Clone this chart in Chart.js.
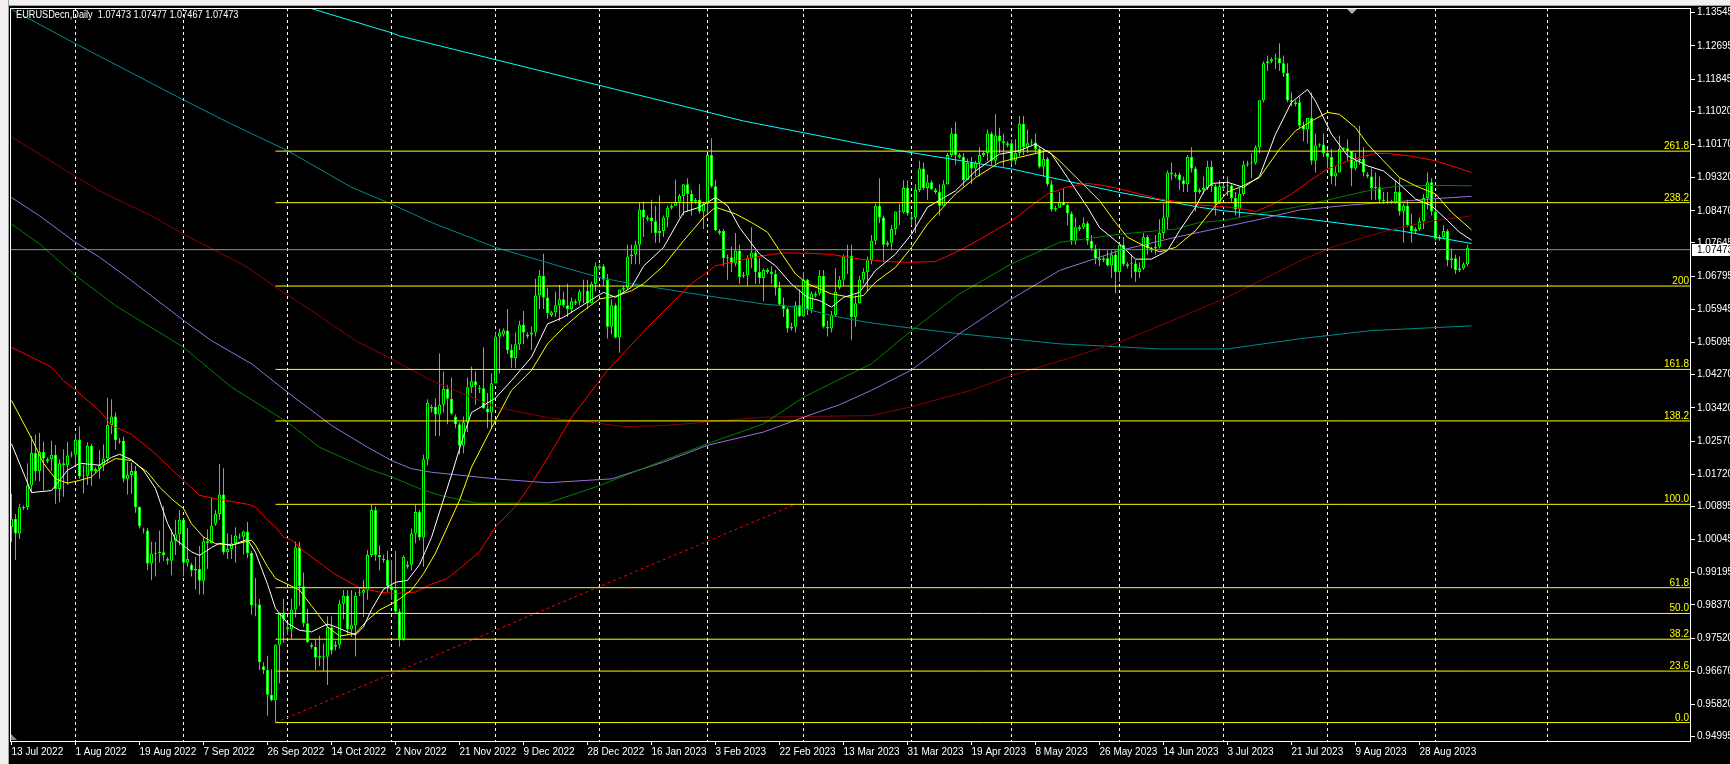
<!DOCTYPE html>
<html><head><meta charset="utf-8">
<style>
html,body{margin:0;padding:0;background:#000;overflow:hidden;}
#wrap{position:relative;width:1730px;height:764px;background:#000;}
#c{position:absolute;left:0;top:0;}
.strip{position:absolute;background:#f0f0f0;}
</style>
<script src="https://cdn.jsdelivr.net/npm/chart.js@4.4.0/dist/chart.umd.min.js"></script>
</head><body>
<div id="wrap">
<canvas id="c" width="1730" height="764"></canvas>
<div class="strip" style="left:0;top:0;width:1730px;height:6px;border-bottom:1px solid #a0a0a0;box-sizing:border-box"></div>
<div class="strip" style="left:0;top:0;width:9px;height:764px;border-right:1px solid #a0a0a0;box-sizing:border-box"></div>
</div>
<script>
// ---- Daily bars [open, high, low, close], Sun..Fri sessions, by month ----
const D_2022_07 = [[1.0037,1.0122,0.9998,1.0058],[1.0058,1.0070,0.9952,1.0020],[1.0020,1.0096,1.0006,1.0087],[1.0085,1.0092,1.0080,1.0088],[1.0088,1.0200,1.0080,1.0143],[1.0143,1.0269,1.0125,1.0226],[1.0226,1.0273,1.0155,1.0180],[1.0180,1.0278,1.0153,1.0229],[1.0229,1.0256,1.0130,1.0212],[1.0205,1.0215,1.0200,1.0210],[1.0210,1.0258,1.0180,1.0222],[1.0222,1.0247,1.0096,1.0134],[1.0134,1.0210,1.0100,1.0200],[1.0200,1.0235,1.0114,1.0195],[1.0195,1.0255,1.0145,1.0220],[1.0220,1.0230,1.0215,1.0222]];
const D_2022_08 = [[1.0222,1.0274,1.0195,1.0260],[1.0260,1.0294,1.0160,1.0166],[1.0166,1.0195,1.0123,1.0168],[1.0168,1.0254,1.0144,1.0245],[1.0245,1.0250,1.0142,1.0180],[1.0180,1.0190,1.0175,1.0185],[1.0185,1.0234,1.0160,1.0195],[1.0195,1.0248,1.0180,1.0212],[1.0212,1.0368,1.0202,1.0298],[1.0298,1.0364,1.0275,1.0320],[1.0320,1.0330,1.0235,1.0259],[1.0255,1.0265,1.0250,1.0258],[1.0258,1.0268,1.0151,1.0160],[1.0160,1.0203,1.0120,1.0170],[1.0170,1.0202,1.0122,1.0180],[1.0180,1.0193,1.0073,1.0088],[1.0088,1.0090,1.0033,1.0039],[1.0030,1.0035,1.0020,1.0028],[1.0028,1.0034,0.9926,0.9943],[0.9943,0.9999,0.9900,0.9968],[0.9968,0.9998,0.9910,0.9970],[0.9970,1.0028,0.9946,0.9972],[0.9972,1.0090,0.9950,0.9965],[0.9955,0.9960,0.9940,0.9950],[0.9950,1.0030,0.9913,1.0000],[1.0000,1.0055,0.9965,1.0018],[1.0018,1.0080,0.9990,1.0055]];
const D_2022_09 = [[1.0055,1.0056,0.9910,0.9945],[0.9945,1.0034,0.9935,0.9955],[0.9940,0.9945,0.9910,0.9925],[0.9925,0.9960,0.9877,0.9929],[0.9929,0.9988,0.9864,0.9899],[0.9899,1.0011,0.9864,1.0000],[1.0000,1.0030,0.9930,0.9995],[0.9995,1.0112,0.9995,1.0040],[1.0045,1.0080,1.0040,1.0070],[1.0070,1.0198,1.0055,1.0120],[1.0120,1.0187,0.9966,0.9972],[0.9972,1.0020,0.9955,0.9980],[0.9980,1.0017,0.9955,0.9995],[0.9995,1.0036,0.9945,1.0015],[1.0010,1.0020,1.0005,1.0012],[1.0012,1.0027,0.9966,1.0025],[1.0025,1.0050,0.9957,0.9970],[0.9970,0.9976,0.9812,0.9836],[0.9836,0.9906,0.9808,0.9838],[0.9838,0.9852,0.9670,0.9690],[0.9680,0.9690,0.9660,0.9670],[0.9670,0.9707,0.9553,0.9607],[0.9607,0.9672,0.9590,0.9593],[0.9593,0.9736,0.9536,0.9735],[0.9735,0.9816,0.9636,0.9814],[0.9814,0.9853,0.9740,0.9800]];
const D_2022_10 = [[0.9780,0.9790,0.9760,0.9775],[0.9775,0.9852,0.9750,0.9825],[0.9825,0.9999,0.9805,0.9985],[0.9985,0.9999,0.9835,0.9885],[0.9885,0.9920,0.9780,0.9790],[0.9790,0.9827,0.9740,0.9742],[0.9735,0.9740,0.9725,0.9730],[0.9730,0.9748,0.9670,0.9702],[0.9702,0.9758,0.9680,0.9707],[0.9707,0.9738,0.9668,0.9704],[0.9704,0.9808,0.9632,0.9780],[0.9780,0.9808,0.9710,0.9720],[0.9730,0.9745,0.9720,0.9735],[0.9735,0.9850,0.9725,0.9840],[0.9840,0.9875,0.9800,0.9860],[0.9860,0.9875,0.9760,0.9775],[0.9775,0.9875,0.9755,0.9785],[0.9785,0.9870,0.9705,0.9860],[0.9870,0.9880,0.9860,0.9868],[0.9868,0.9900,0.9806,0.9875],[0.9875,0.9977,0.9850,0.9965],[0.9965,1.0094,0.9960,1.0080],[1.0080,1.0089,0.9950,0.9965],[0.9965,0.9990,0.9925,0.9960],[0.9955,0.9965,0.9945,0.9952],[0.9952,0.9976,0.9870,0.9885]];
const D_2022_11 = [[0.9885,0.9953,0.9850,0.9875],[0.9875,0.9975,0.9815,0.9820],[0.9820,0.9827,0.9730,0.9750],[0.9750,0.9964,0.9745,0.9960],[0.9935,0.9950,0.9930,0.9940],[0.9940,1.0033,0.9925,1.0020],[1.0020,1.0093,0.9995,1.0075],[1.0075,1.0080,1.0002,1.0010],[1.0010,1.0222,0.9935,1.0210],[1.0210,1.0364,1.0195,1.0355],[1.0340,1.0350,1.0330,1.0345],[1.0345,1.0366,1.0270,1.0325],[1.0325,1.0481,1.0270,1.0350],[1.0350,1.0435,1.0330,1.0390],[1.0390,1.0400,1.0300,1.0365],[1.0365,1.0420,1.0325,1.0327],[1.0320,1.0325,1.0290,1.0300],[1.0300,1.0305,1.0223,1.0245],[1.0245,1.0320,1.0225,1.0305],[1.0305,1.0420,1.0280,1.0395],[1.0395,1.0448,1.0380,1.0410],[1.0410,1.0436,1.0350,1.0400],[1.0390,1.0400,1.0380,1.0392],[1.0392,1.0497,1.0340,1.0340],[1.0340,1.0380,1.0290,1.0330],[1.0330,1.0430,1.0290,1.0405]];
const D_2022_12 = [[1.0405,1.0535,1.0405,1.0525],[1.0525,1.0545,1.0430,1.0535],[1.0530,1.0545,1.0525,1.0540],[1.0540,1.0595,1.0480,1.0490],[1.0490,1.0505,1.0445,1.0470],[1.0470,1.0535,1.0445,1.0505],[1.0505,1.0565,1.0490,1.0555],[1.0555,1.0590,1.0505,1.0535],[1.0525,1.0535,1.0520,1.0530],[1.0530,1.0550,1.0490,1.0535],[1.0535,1.0673,1.0525,1.0630],[1.0630,1.0695,1.0595,1.0680],[1.0680,1.0737,1.0595,1.0625],[1.0625,1.0650,1.0570,1.0585],[1.0580,1.0590,1.0575,1.0587],[1.0587,1.0640,1.0575,1.0605],[1.0605,1.0657,1.0565,1.0620],[1.0620,1.0640,1.0600,1.0605],[1.0605,1.0660,1.0575,1.0595],[1.0595,1.0625,1.0585,1.0615],[1.0610,1.0620,1.0605,1.0615],[1.0615,1.0645,1.0605,1.0640],[1.0640,1.0670,1.0610,1.0642],[1.0642,1.0670,1.0595,1.0610],[1.0610,1.0665,1.0610,1.0660],[1.0660,1.0715,1.0640,1.0705]];
const D_2023_01 = [[1.0700,1.0710,1.0695,1.0705],[1.0705,1.0710,1.0655,1.0670],[1.0670,1.0685,1.0520,1.0550],[1.0550,1.0620,1.0530,1.0605],[1.0605,1.0610,1.0520,1.0522],[1.0522,1.0645,1.0483,1.0645],[1.0645,1.0655,1.0640,1.0650],[1.0650,1.0760,1.0645,1.0730],[1.0730,1.0760,1.0710,1.0735],[1.0735,1.0770,1.0710,1.0760],[1.0760,1.0868,1.0710,1.0850],[1.0850,1.0870,1.0780,1.0830],[1.0825,1.0835,1.0820,1.0830],[1.0830,1.0875,1.0790,1.0820],[1.0820,1.0860,1.0765,1.0790],[1.0790,1.0887,1.0765,1.0795],[1.0795,1.0835,1.0780,1.0830],[1.0830,1.0860,1.0805,1.0855],[1.0855,1.0865,1.0850,1.0860],[1.0860,1.0927,1.0860,1.0870],[1.0870,1.0890,1.0830,1.0885],[1.0885,1.0915,1.0835,1.0915],[1.0915,1.0930,1.0845,1.0890],[1.0890,1.0900,1.0835,1.0870],[1.0870,1.0880,1.0865,1.0875],[1.0875,1.0915,1.0840,1.0845],[1.0845,1.0870,1.0800,1.0865]];
const D_2023_02 = [[1.0865,1.0990,1.0835,1.0990],[1.0990,1.1033,1.0905,1.0910],[1.0910,1.0925,1.0795,1.0797],[1.0790,1.0800,1.0785,1.0795],[1.0795,1.0800,1.0705,1.0725],[1.0725,1.0735,1.0670,1.0728],[1.0728,1.0755,1.0690,1.0712],[1.0712,1.0790,1.0705,1.0745],[1.0745,1.0760,1.0660,1.0677],[1.0680,1.0690,1.0675,1.0682],[1.0682,1.0733,1.0655,1.0725],[1.0725,1.0805,1.0700,1.0740],[1.0740,1.0745,1.0660,1.0690],[1.0690,1.0725,1.0660,1.0675],[1.0675,1.0700,1.0615,1.0695],[1.0695,1.0700,1.0685,1.0690],[1.0690,1.0705,1.0660,1.0685],[1.0685,1.0695,1.0630,1.0650],[1.0650,1.0665,1.0605,1.0607],[1.0607,1.0625,1.0575,1.0595],[1.0595,1.0600,1.0535,1.0545],[1.0545,1.0560,1.0540,1.0550],[1.0550,1.0615,1.0535,1.0605],[1.0605,1.0645,1.0575,1.0577]];
const D_2023_03 = [[1.0577,1.0690,1.0575,1.0670],[1.0670,1.0672,1.0580,1.0595],[1.0595,1.0640,1.0585,1.0635],[1.0630,1.0640,1.0625,1.0635],[1.0635,1.0695,1.0630,1.0680],[1.0680,1.0695,1.0545,1.0550],[1.0550,1.0565,1.0525,1.0545],[1.0545,1.0590,1.0535,1.0580],[1.0580,1.0700,1.0575,1.0640],[1.0650,1.0680,1.0645,1.0670],[1.0670,1.0735,1.0655,1.0730],[1.0730,1.0760,1.0685,1.0732],[1.0732,1.0760,1.0515,1.0575],[1.0575,1.0630,1.0550,1.0610],[1.0610,1.0680,1.0610,1.0670],[1.0670,1.0700,1.0660,1.0690],[1.0690,1.0730,1.0640,1.0720],[1.0720,1.0785,1.0710,1.0770],[1.0770,1.0865,1.0760,1.0860],[1.0860,1.0930,1.0815,1.0830],[1.0830,1.0835,1.0715,1.0760],[1.0760,1.0770,1.0755,1.0765],[1.0765,1.0810,1.0745,1.0800],[1.0800,1.0845,1.0785,1.0845],[1.0845,1.0865,1.0810,1.0843],[1.0843,1.0925,1.0840,1.0905],[1.0905,1.0925,1.0835,1.0840]];
const D_2023_04 = [[1.0825,1.0840,1.0810,1.0830],[1.0830,1.0915,1.0790,1.0900],[1.0900,1.0975,1.0895,1.0955],[1.0955,1.0970,1.0900,1.0905],[1.0905,1.0940,1.0875,1.0920],[1.0920,1.0925,1.0900,1.0902],[1.0900,1.0905,1.0890,1.0895],[1.0895,1.0915,1.0835,1.0860],[1.0860,1.0925,1.0860,1.0915],[1.0915,1.0995,1.0915,1.0990],[1.0990,1.1060,1.0985,1.1045],[1.1045,1.1075,1.0965,1.0990],[1.0990,1.0995,1.0980,1.0985],[1.0985,1.0995,1.0910,1.0925],[1.0925,1.0980,1.0925,1.0970],[1.0970,1.0985,1.0915,1.0955],[1.0955,1.0975,1.0935,1.0970],[1.0970,1.1010,1.0935,1.0990],[1.0990,1.1000,1.0985,1.0995],[1.0995,1.1055,1.0975,1.1045],[1.1045,1.1050,1.0965,1.0975],[1.0975,1.1095,1.0965,1.1040],[1.1040,1.1060,1.0995,1.1025],[1.1025,1.1045,1.0960,1.1020],[1.1015,1.1025,1.1010,1.1020]];
const D_2023_05 = [[1.1020,1.1030,1.0965,1.0975],[1.0975,1.1030,1.0965,1.0995],[1.0995,1.1090,1.0985,1.1070],[1.1070,1.1090,1.0990,1.1010],[1.1010,1.1055,1.0995,1.1020],[1.1020,1.1030,1.1015,1.1022],[1.1022,1.1045,1.0995,1.1005],[1.1005,1.1010,1.0955,1.0960],[1.0960,1.1005,1.0935,1.0980],[1.0980,1.0985,1.0910,1.0915],[1.0915,1.0925,1.0845,1.0850],[1.0850,1.0860,1.0845,1.0855],[1.0855,1.0895,1.0855,1.0870],[1.0870,1.0905,1.0860,1.0862],[1.0862,1.0865,1.0810,1.0840],[1.0840,1.0845,1.0760,1.0770],[1.0770,1.0830,1.0760,1.0805],[1.0800,1.0810,1.0795,1.0805],[1.0805,1.0830,1.0800,1.0815],[1.0815,1.0820,1.0760,1.0770],[1.0770,1.0785,1.0745,1.0750],[1.0750,1.0760,1.0710,1.0725],[1.0725,1.0750,1.0705,1.0720],[1.0720,1.0730,1.0715,1.0725],[1.0725,1.0745,1.0705,1.0707],[1.0707,1.0745,1.0675,1.0735],[1.0735,1.0745,1.0635,1.0690]];
const D_2023_06 = [[1.0690,1.0765,1.0665,1.0760],[1.0760,1.0780,1.0705,1.0710],[1.0705,1.0715,1.0700,1.0710],[1.0710,1.0735,1.0675,1.0712],[1.0712,1.0720,1.0665,1.0690],[1.0690,1.0715,1.0675,1.0700],[1.0700,1.0790,1.0695,1.0780],[1.0780,1.0785,1.0735,1.0750],[1.0745,1.0755,1.0740,1.0750],[1.0750,1.0785,1.0735,1.0755],[1.0755,1.0825,1.0750,1.0790],[1.0790,1.0865,1.0775,1.0830],[1.0830,1.0950,1.0800,1.0945],[1.0945,1.0970,1.0925,1.0940],[1.0935,1.0945,1.0930,1.0940],[1.0940,1.0945,1.0900,1.0925],[1.0925,1.0935,1.0895,1.0915],[1.0915,1.0990,1.0895,1.0985],[1.0985,1.1010,1.0945,1.0955],[1.0955,1.0960,1.0845,1.0895],[1.0895,1.0905,1.0890,1.0900],[1.0900,1.0935,1.0890,1.0905],[1.0905,1.0975,1.0900,1.0960],[1.0960,1.0975,1.0895,1.0910],[1.0910,1.0915,1.0835,1.0865],[1.0865,1.0925,1.0865,1.0910]];
const D_2023_07 = [[1.0905,1.0915,1.0900,1.0910],[1.0910,1.0935,1.0885,1.0912],[1.0912,1.0915,1.0870,1.0880],[1.0880,1.0895,1.0835,1.0850],[1.0850,1.0905,1.0830,1.0890],[1.0890,1.0975,1.0885,1.0965],[1.0965,1.0975,1.0960,1.0968],[1.0968,1.0995,1.0930,1.0970],[1.0970,1.1015,1.0965,1.1010],[1.1010,1.1130,1.0995,1.1130],[1.1130,1.1230,1.1125,1.1225],[1.1225,1.1245,1.1205,1.1230],[1.1230,1.1240,1.1225,1.1235],[1.1235,1.1250,1.1210,1.1238],[1.1238,1.1276,1.1205,1.1225],[1.1225,1.1245,1.1190,1.1200],[1.1200,1.1225,1.1125,1.1130],[1.1130,1.1150,1.1115,1.1125],[1.1120,1.1130,1.1115,1.1125],[1.1125,1.1140,1.1060,1.1065],[1.1065,1.1075,1.1025,1.1055],[1.1055,1.1085,1.1020,1.1085],[1.1085,1.1150,1.0965,1.0975],[1.0975,1.1045,1.0945,1.1015],[1.1015,1.1020,1.1010,1.1017],[1.1017,1.1045,1.0985,1.0995]];
const D_2023_08 = [[1.0995,1.1005,1.0955,1.0985],[1.0985,1.1005,1.0915,1.0935],[1.0935,1.0960,1.0910,1.0945],[1.0945,1.1040,1.0945,1.1005],[1.1005,1.1010,1.1000,1.1007],[1.1007,1.1030,1.0975,1.1000],[1.1000,1.1000,1.0910,1.0955],[1.0955,1.0995,1.0950,1.0975],[1.0975,1.1065,1.0965,1.0980],[1.0980,1.1010,1.0935,1.0945],[1.0940,1.0945,1.0930,1.0935],[1.0935,1.0955,1.0875,1.0905],[1.0905,1.0945,1.0875,1.0907],[1.0907,1.0935,1.0865,1.0875],[1.0875,1.0895,1.0865,1.0872],[1.0872,1.0895,1.0865,1.0870],[1.0870,1.0875,1.0865,1.0868],[1.0868,1.0925,1.0865,1.0895],[1.0895,1.0930,1.0835,1.0845],[1.0845,1.0865,1.0765,1.0860],[1.0860,1.0875,1.0805,1.0810],[1.0810,1.0840,1.0765,1.0795],[1.0795,1.0805,1.0790,1.0800],[1.0800,1.0830,1.0795,1.0820],[1.0820,1.0890,1.0800,1.0880],[1.0880,1.0945,1.0850,1.0920],[1.0920,1.0930,1.0835,1.0845]];
const D_2023_09 = [[1.0845,1.0880,1.0770,1.0775],[1.0775,1.0785,1.0770,1.0780],[1.0780,1.0810,1.0775,1.0795],[1.0795,1.0800,1.0705,1.0720],[1.0720,1.0750,1.0700,1.0725],[1.0725,1.0735,1.0685,1.0695],[1.0695,1.0730,1.0690,1.0700],[1.0700,1.0715,1.0695,1.0710],[1.0710,1.0760,1.0705,1.0752],[1.07473,1.07477,1.07467,1.07473]];

// ---- x-axis tick labels (every 16 bars) and month-start grid bars ----
const X_TICK_IDX = [0,16,32,48,64,80,96,112,128,144,160,176,192,208,224,240,256,272,288,304,320,336,352];
const X_TICK_LABELS = ['13 Jul 2022','1 Aug 2022','19 Aug 2022','7 Sep 2022','26 Sep 2022','14 Oct 2022','2 Nov 2022','21 Nov 2022','9 Dec 2022','28 Dec 2022','16 Jan 2023','3 Feb 2023','22 Feb 2023','13 Mar 2023','31 Mar 2023','19 Apr 2023','8 May 2023','26 May 2023','14 Jun 2023','3 Jul 2023','21 Jul 2023','9 Aug 2023','28 Aug 2023'];
const MONTH_GRID_IDX = [16,43,69,95,121,147,174,198,225,250,277,303,329,356,384];
// ---- price axis ticks ----
const Y_TICKS = [0.94995,0.95820,0.96670,0.97520,0.98370,0.99195,1.00045,1.00895,1.01720,1.02570,1.03420,1.04270,1.05095,1.05945,1.06795,1.07645,1.08470,1.09320,1.10170,1.11020,1.11845,1.12695,1.13545];
const BID = 1.07473;
const HEADER = 'EURUSDecn,Daily  1.07473 1.07477 1.07467 1.07473';

// ---- moving averages: [bar index, price] ----
const MA_WHITE = [[0,1.0250],[5,1.0125],[10,1.0130],[14,1.0182],[17,1.0200],[22,1.0195],[25,1.0215],[27,1.0223],[30,1.0209],[33,1.0182],[36,1.0135],[39,1.0046],[41,1.0005],[45,0.9973],[47,0.9964],[50,0.9984],[52,0.9995],[55,0.9990],[59,1.0005],[61,0.9972],[64,0.9890],[66,0.9828],[69,0.9790],[72,0.9772],[75,0.9768],[79,0.9788],[81,0.9781],[84,0.9768],[86,0.9760],[88,0.9781],[90,0.9825],[93,0.9877],[96,0.9895],[99,0.9900],[102,0.9940],[105,1.0010],[107,1.0075],[110,1.0170],[113,1.0270],[115,1.0330],[118,1.0348],[121,1.0367],[125,1.0412],[130,1.0472],[134,1.0557],[138,1.0574],[142,1.0600],[148,1.0638],[151,1.0625],[155,1.0651],[158,1.0705],[163,1.0753],[168,1.0843],[172,1.0856],[176,1.0881],[179,1.0860],[182,1.0804],[187,1.0736],[191,1.0706],[195,1.0659],[199,1.0625],[202,1.0617],[205,1.0600],[208,1.0625],[212,1.0638],[216,1.0694],[221,1.0736],[225,1.0787],[229,1.0856],[236,1.0898],[241,1.0949],[247,1.0992],[252,1.1001],[256,1.1018],[260,1.0992],[264,1.0932],[269,1.0856],[272,1.0804],[277,1.0762],[281,1.0723],[285,1.0723],[289,1.0745],[292,1.0796],[296,1.0856],[298,1.0895],[300,1.0917],[304,1.0920],[308,1.0907],[312,1.0935],[316,1.1043],[320,1.1125],[324,1.1158],[326,1.1128],[330,1.1043],[334,1.0988],[339,1.0962],[343,1.0949],[347,1.0915],[351,1.0877],[355,1.0860],[359,1.0822],[362,1.0792],[365,1.0772]];
const MA_YELLOW = [[0,1.0361],[5,1.0264],[8,1.0200],[11,1.0160],[14,1.0149],[17,1.0156],[20,1.0165],[23,1.0195],[26,1.0212],[30,1.0207],[34,1.0177],[37,1.0139],[40,1.0109],[43,1.0084],[45,1.0045],[48,1.0011],[51,0.9994],[55,0.9990],[60,1.0003],[61,0.9990],[64,0.9935],[66,0.9905],[69,0.9890],[72,0.9875],[75,0.9835],[79,0.9781],[82,0.9757],[86,0.9764],[89,0.9798],[92,0.9824],[96,0.9845],[100,0.9875],[103,0.9917],[106,0.9970],[110,1.0060],[112,1.0105],[115,1.0190],[121,1.0310],[125,1.0387],[130,1.0438],[134,1.0506],[138,1.0548],[142,1.0583],[147,1.0621],[151,1.0628],[155,1.0642],[158,1.0660],[163,1.0706],[168,1.0770],[173,1.0830],[176,1.0856],[181,1.0839],[185,1.0817],[189,1.0792],[192,1.0745],[196,1.0685],[199,1.0660],[205,1.0634],[210,1.0625],[213,1.0630],[216,1.0664],[221,1.0702],[225,1.0753],[229,1.0813],[236,1.0890],[241,1.0932],[247,1.0971],[252,1.0984],[259,1.1001],[262,1.0975],[267,1.0924],[272,1.0873],[276,1.0817],[279,1.0779],[283,1.0758],[287,1.0742],[291,1.0753],[296,1.0796],[301,1.0860],[304,1.0895],[307,1.0907],[312,1.0932],[317,1.1005],[321,1.1052],[325,1.1077],[329,1.1099],[332,1.1094],[336,1.1060],[339,1.1018],[343,1.0975],[347,1.0932],[351,1.0911],[356,1.0890],[360,1.0843],[365,1.0798]];
const MA_RED = [[0,1.0497],[5,1.0472],[10,1.0446],[13,1.0412],[16,1.0387],[22,1.0335],[25,1.0297],[30,1.0274],[35,1.0233],[43,1.0156],[47,1.0118],[51,1.0109],[55,1.0102],[59,1.0095],[61,1.0088],[64,1.0054],[66,1.0037],[68,1.0011],[70,1.0003],[73,0.9975],[77,0.9945],[81,0.9915],[87,0.9881],[92,0.9870],[96,0.9866],[101,0.9870],[105,0.9890],[109,0.9905],[112,0.9930],[117,0.9973],[121,1.0037],[126,1.0090],[130,1.0148],[135,1.0230],[140,1.0318],[149,1.0438],[159,1.0548],[170,1.0660],[176,1.0706],[183,1.0722],[188,1.0732],[193,1.0739],[200,1.0738],[205,1.0735],[212,1.0723],[220,1.0716],[225,1.0715],[231,1.0717],[237,1.0745],[244,1.0785],[250,1.0821],[255,1.0860],[259,1.0890],[264,1.0908],[269,1.0917],[273,1.0912],[277,1.0903],[282,1.0890],[287,1.0877],[292,1.0870],[297,1.0862],[302,1.0858],[306,1.0855],[311,1.0845],[315,1.0862],[320,1.0890],[324,1.0920],[329,1.0954],[335,1.0978],[341,1.0994],[344,1.0994],[350,1.0987],[356,1.0975],[360,1.0962],[365,1.0945]];
const MA_DARKRED = [[0,1.1036],[5,1.1005],[13,1.0954],[22,1.0898],[35,1.0834],[43,1.0787],[51,1.0745],[59,1.0702],[66,1.0651],[75,1.0591],[86,1.0514],[95,1.0467],[105,1.0412],[121,1.0344],[135,1.0315],[145,1.0305],[153,1.0294],[162,1.0296],[171,1.0303],[188,1.0318],[200,1.0320],[215,1.0322],[225,1.0345],[232,1.0365],[240,1.0387],[250,1.0425],[264,1.0468],[277,1.0510],[290,1.0565],[303,1.0621],[313,1.0672],[322,1.0718],[330,1.0753],[339,1.0782],[347,1.0804],[356,1.0822],[365,1.0834]];
const MA_PURPLE = [[0,1.0881],[7,1.0834],[16,1.0766],[22,1.0728],[30,1.0668],[43,1.0566],[50,1.0514],[60,1.0455],[69,1.0382],[80,1.0297],[89,1.0241],[95,1.0207],[100,1.0186],[105,1.0177],[121,1.0160],[134,1.0150],[150,1.0160],[163,1.0203],[174,1.0246],[188,1.0280],[198,1.0318],[207,1.0350],[215,1.0387],[225,1.0439],[237,1.0532],[250,1.0621],[262,1.0694],[277,1.0745],[291,1.0779],[297,1.0792],[303,1.0805],[312,1.0825],[322,1.0849],[335,1.0862],[347,1.0871],[356,1.0878],[365,1.0884]];
const MA_GREEN = [[0,1.0813],[7,1.0762],[16,1.0681],[26,1.0604],[43,1.0497],[55,1.0395],[69,1.0305],[77,1.0241],[89,1.0186],[95,1.0165],[102,1.0135],[107,1.0118],[116,1.0098],[134,1.0098],[146,1.0139],[163,1.0207],[174,1.0250],[188,1.0301],[198,1.0369],[206,1.0410],[215,1.0455],[225,1.0540],[237,1.0634],[250,1.0711],[262,1.0766],[277,1.0787],[291,1.0800],[297,1.0817],[303,1.0822],[312,1.0840],[322,1.0858],[339,1.0898],[347,1.0911],[356,1.0912],[365,1.0911]];
const MA_CYAN = [[74,1.1368],[95,1.1303],[97,1.1295],[183,1.1077],[198,1.1047],[212,1.1019],[222,1.1001],[250,1.0954],[277,1.0894],[297,1.0856],[303,1.0847],[322,1.0828],[347,1.0796],[365,1.0763]];
const MA_TEAL = [[0,1.1363],[16,1.1275],[43,1.1131],[55,1.1069],[69,1.1001],[85,1.0907],[95,1.0864],[105,1.0817],[121,1.0753],[138,1.0702],[147,1.0676],[155,1.0660],[172,1.0632],[188,1.0608],[197,1.0600],[205,1.0578],[214,1.0561],[222,1.0550],[237,1.0532],[262,1.0506],[287,1.0493],[304,1.0493],[322,1.0519],[340,1.0540],[365,1.0552]];

// ---- Fibonacci object ----
const FIB_LOW = 0.95355, FIB_HIGH = 1.00948, FIB_START = 66, FIB_END = 196;
const FIB_RATIOS = [0, 23.6, 38.2, 50, 61.8, 100, 138.2, 161.8, 200, 238.2, 261.8];
const FIB_LABELS = ['0.0','23.6','38.2','50.0','61.8','100.0','138.2','161.8','200','238.2','261.8'];

// ---------------------------------------------------------------------
const BARS = [].concat(D_2022_07,D_2022_08,D_2022_09,D_2022_10,D_2022_11,D_2022_12,D_2023_01,D_2023_02,D_2023_03,D_2023_04,D_2023_05,D_2023_06,D_2023_07,D_2023_08,D_2023_09);
const X_MIN = -0.375, X_MAX = 419.875;
const Y_MIN = 0.948834, Y_MAX = 1.136654;
const FONT = 'Liberation Sans';
const GREEN = '#00ff00';

const toPts = a => a.map(p => ({x: p[0], y: p[1]}));
const maLine = (data, color, order) => ({type:'line', data: toPts(data), borderColor: color, borderWidth: 1, pointRadius: 0, tension: 0, fill: false, order, xAxisID:'x', yAxisID:'y'});
const fibPrices = FIB_RATIOS.map(r => FIB_LOW + (FIB_HIGH - FIB_LOW) * r / 100);

const datasets = [
  {type:'bar', data: BARS.map((b,i)=>({x:i, y:[b[2], b[1]]})), backgroundColor: GREEN, borderWidth: 0, barThickness: 1, grouped: false, inflateAmount: 0, order: 40, xAxisID:'x', yAxisID:'y'},
  {type:'bar', data: BARS.map((b,i)=>({x:i, y:[b[0], b[3]]})),
   backgroundColor: BARS.map(b => b[3] > b[0] ? '#000000' : (b[3] < b[0] ? '#ffffff' : GREEN)),
   borderColor: GREEN, borderWidth: 1, borderSkipped: false, barThickness: 3, minBarLength: 1, grouped: false, inflateAmount: 0, order: 39, xAxisID:'x', yAxisID:'y'},
  maLine(MA_TEAL, '#008b8b', 20),
  maLine(MA_CYAN, '#00ffff', 19),
  maLine(MA_DARKRED, '#8b0000', 18),
  maLine(MA_PURPLE, '#9370db', 17),
  maLine(MA_GREEN, '#008000', 16),
  maLine(MA_RED, '#ff0000', 15),
  maLine(MA_YELLOW, '#ffff00', 14),
  maLine(MA_WHITE, '#ffffff', 13),
  {type:'line', data:[{x:FIB_START, y:FIB_LOW},{x:FIB_END, y:FIB_HIGH}], borderColor:'#ff0000', borderWidth:1, borderDash:[3,3], pointRadius:0, order: 6, xAxisID:'x', yAxisID:'y'},
  ...fibPrices.map(p => ({type:'line', data:[{x:FIB_START, y:p},{x:X_MAX, y:p}], borderColor:'#ffff00', borderWidth:1, pointRadius:0, order: 5, xAxisID:'x', yAxisID:'y'})),
  {type:'line', data:[{x:X_MIN, y:BID},{x:X_MAX, y:BID}], borderColor:'#909090', borderWidth:1, pointRadius:0, order: 4, xAxisID:'x', yAxisID:'y'}
];

const overlay = {
  id: 'mt4overlay',
  afterDraw(chart) {
    const ctx = chart.ctx, a = chart.chartArea, ys = chart.scales.y;
    ctx.save();
    // frame
    ctx.strokeStyle = '#ffffff'; ctx.lineWidth = 1;
    ctx.strokeRect(a.left + 0.5, a.top + 0.5, a.right - a.left - 1, a.bottom - a.top);
    // fib labels
    ctx.font = '10px "' + FONT + '"';
    ctx.fillStyle = '#ffff00'; ctx.textAlign = 'right'; ctx.textBaseline = 'alphabetic';
    fibPrices.forEach((p, k) => ctx.fillText(FIB_LABELS[k], a.right - 2, Math.round(ys.getPixelForValue(p)) - 2));
    // header (slightly condensed)
    ctx.save();
    ctx.translate(16, 15); ctx.scale(0.92, 1.05);
    ctx.fillStyle = '#ffffff'; ctx.textAlign = 'left'; ctx.textBaseline = 'middle';
    ctx.fillText(HEADER, 0, 0);
    ctx.restore();
    // bid price box
    ctx.textAlign = 'left'; ctx.textBaseline = 'middle';
    const by = Math.round(ys.getPixelForValue(BID));
    ctx.fillStyle = '#ffffff';
    ctx.fillRect(a.right + 1, by - 6, 40, 12);
    ctx.fillStyle = '#000000';
    ctx.fillText(BID.toFixed(5), a.right + 6, by + 0.5);
    // shift marker & scale marker
    ctx.fillStyle = '#a8b0c0';
    ctx.beginPath(); ctx.moveTo(1347, a.top + 1); ctx.lineTo(1357, a.top + 1); ctx.lineTo(1352, a.top + 6); ctx.closePath(); ctx.fill();
    ctx.fillStyle = '#8090a8';
    ctx.beginPath(); ctx.moveTo(a.left + 1, a.bottom - 7); ctx.lineTo(a.left + 1, a.bottom - 1); ctx.lineTo(a.left + 7, a.bottom - 1); ctx.closePath(); ctx.fill();
    ctx.restore();
  }
};

new Chart(document.getElementById('c'), {
  type: 'line',
  data: { datasets },
  options: {
    responsive: false, animation: false, normalized: true,
    layout: { padding: { left: 10, top: 7, right: 0, bottom: 0 } },
    plugins: { legend: { display: false }, tooltip: { enabled: false } },
    events: [],
    scales: {
      x: {
        type: 'linear', position: 'bottom', min: X_MIN, max: X_MAX, offset: false,
        afterFit(s) { s.height = 23; },
        afterBuildTicks(s) { s.ticks = X_TICK_IDX.map(v => ({ value: v })); },
        grid: { display: true, drawOnChartArea: false, drawTicks: true, tickLength: 4, color: '#ffffff', offset: false },
        border: { display: false },
        ticks: { autoSkip: false, maxRotation: 0, minRotation: 0, align: 'start', padding: 1, color: '#ffffff',
                 font: { family: FONT, size: 10 }, callback: (v, i) => X_TICK_LABELS[i] }
      },
      xg: {
        type: 'linear', position: 'top', min: X_MIN, max: X_MAX, offset: false,
        afterFit(s) { s.height = 0; },
        afterBuildTicks(s) { s.ticks = MONTH_GRID_IDX.map(v => ({ value: v })); },
        grid: { display: true, drawOnChartArea: true, drawTicks: false, color: '#ffffff', lineWidth: 1, offset: false },
        border: { display: false, dash: [3, 3] },
        ticks: { display: false }
      },
      y: {
        type: 'linear', position: 'right', min: Y_MIN, max: Y_MAX,
        afterFit(s) { s.width = 39; },
        afterBuildTicks(s) { s.ticks = Y_TICKS.map(v => ({ value: v })); },
        grid: { display: true, drawOnChartArea: false, drawTicks: true, tickLength: 4, color: '#ffffff' },
        border: { display: false },
        ticks: { color: '#ffffff', padding: 2, font: { family: FONT, size: 10 }, callback: v => Number(v).toFixed(5) }
      }
    }
  },
  plugins: [overlay]
});
</script>
</body></html>
